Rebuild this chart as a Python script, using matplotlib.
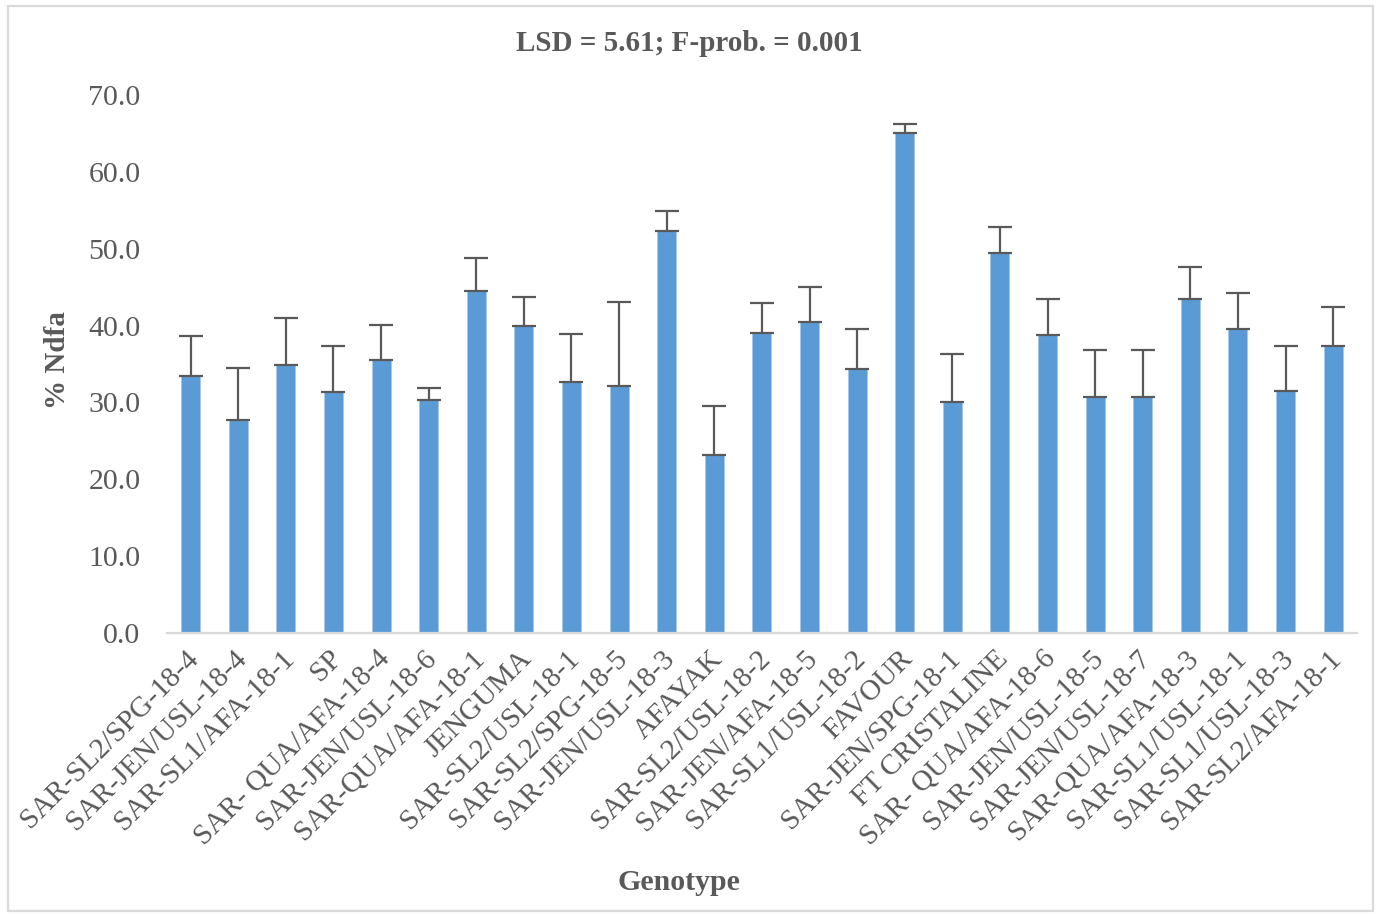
import numpy as np
import matplotlib
matplotlib.use('Agg')
import matplotlib.pyplot as plt
import matplotlib.transforms as mtransforms
from matplotlib.patches import Rectangle

genotypes = ['SAR-SL2/SPG-18-4', 'SAR-JEN/USL-18-4', 'SAR-SL1/AFA-18-1', 'SP',
             'SAR- QUA/AFA-18-4', 'SAR-JEN/USL-18-6', 'SAR-QUA/AFA-18-1', 'JENGUMA',
             'SAR-SL2/USL-18-1', 'SAR-SL2/SPG-18-5', 'SAR-JEN/USL-18-3', 'AFAYAK',
             'SAR-SL2/USL-18-2', 'SAR-JEN/AFA-18-5', 'SAR-SL1/USL-18-2', 'FAVOUR',
             'SAR-JEN/SPG-18-1', 'FT CRISTALINE', 'SAR- QUA/AFA-18-6', 'SAR-JEN/USL-18-5',
             'SAR-JEN/USL-18-7', 'SAR-QUA/AFA-18-3', 'SAR-SL1/USL-18-1', 'SAR-SL1/USL-18-3',
             'SAR-SL2/AFA-18-1']
ndfa = [33.4, 27.7, 34.9, 31.3, 35.5, 30.3, 44.5, 39.9,
        32.6, 32.2, 52.3, 23.1, 39.0, 40.5, 34.3, 65.0,
        30.0, 49.4, 38.8, 30.7, 30.7, 43.5, 39.6, 31.5, 37.4]
err = [5.2, 6.8, 6.1, 6.0, 4.6, 1.6, 4.3, 3.8,
       6.35, 10.9, 2.6, 6.4, 3.9, 4.5, 5.2, 1.2,
       6.3, 3.4, 4.6, 6.1, 6.1, 4.1, 4.6, 5.9, 5.0]

grey = '#595959'
plt.rcParams['font.family'] = ['Liberation Serif', 'DejaVu Serif']

fig = plt.figure(figsize=(13.79, 9.14), dpi=100)
ax = fig.add_axes([0.121, 0.3075, 0.863, 0.5885])

x = np.arange(len(genotypes))
ax.bar(x, ndfa, width=0.4, color='#5B9BD5', edgecolor='#A9C8EA', linewidth=0.6, zorder=2)
ax.errorbar(x, ndfa, yerr=[np.zeros(len(err)), err], fmt='none', ecolor=grey,
            elinewidth=1.6, capsize=8.5, capthick=1.6, zorder=3)

ax.set_xlim(-0.5, len(genotypes) - 0.5)
ax.set_ylim(0, 70)
ax.set_yticks(np.arange(0, 71, 10))
ax.set_yticklabels(['%.1f' % v for v in np.arange(0, 71, 10)])
ax.set_xticks(x)
ax.set_xticklabels(genotypes, rotation=45, ha='right', rotation_mode='anchor')
ax.tick_params(axis='both', length=0, colors=grey)
ax.tick_params(axis='x', pad=9, labelsize=21)
ax.tick_params(axis='y', pad=19, labelsize=21.5)
shift = mtransforms.ScaledTranslation(-5 / 100, 0, fig.dpi_scale_trans)
for lab in ax.get_xticklabels():
    lab.set_transform(lab.get_transform() + shift)
for s in ['top', 'right', 'left']:
    ax.spines[s].set_visible(False)
ax.spines['bottom'].set_color('#d9d9d9')
ax.spines['bottom'].set_linewidth(1.6)

fig.text(0.5, 0.952, 'LSD = 5.61; F-prob. = 0.001', ha='center', va='center',
         fontsize=21, fontweight='bold', color=grey)
fig.text(0.492, 0.035, 'Genotype', ha='center', va='center',
         fontsize=21.5, fontweight='bold', color=grey)
fig.text(0.042, 0.606, '% Ndfa', ha='center', va='center', rotation=90,
         fontsize=21, fontweight='bold', color=grey)

fig.patches.append(Rectangle((0.0055, 0.003), 0.99, 0.99, transform=fig.transFigure,
                             fill=False, edgecolor='#d9d9d9', linewidth=1.6))

fig.savefig('out.png', dpi=100)
